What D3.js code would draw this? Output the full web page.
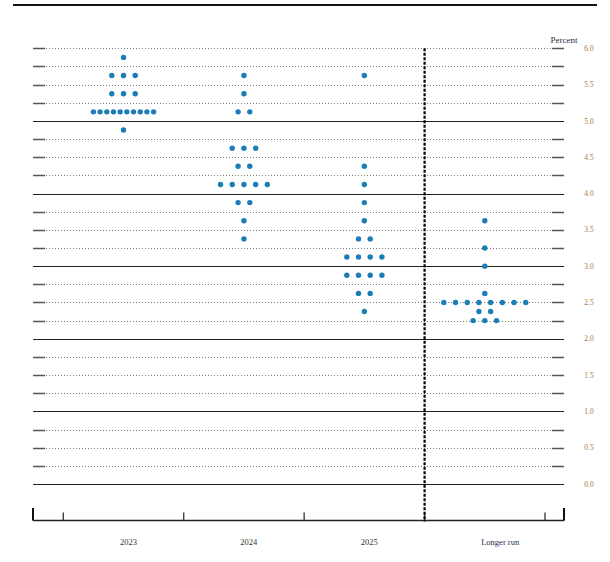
<!DOCTYPE html>
<html>
<head>
<meta charset="utf-8">
<script src="https://cdn.jsdelivr.net/npm/d3@7"></script>
<style>
	body { margin: 0; background: #fff; }
	svg { display: block; }
	text { font-family: "Liberation Serif", "DejaVu Serif", serif; }
</style>
</head>
<body>
<svg id="svg0" width="610" height="562"></svg>
<script>
// columns of the chart
var years = ["2023", "2024", "2025", "Longer run"];

// rate levels (midpoints) and how many participants sit at each one
var levels2023 = [5.875, 5.625, 5.375, 5.125, 4.875];
var counts2023 = [1, 3, 3, 10, 1];

var levels2024 = [5.625, 5.375, 5.125, 4.625, 4.375, 4.125, 3.875, 3.625, 3.375];
var counts2024 = [1, 1, 2, 3, 2, 5, 2, 1, 1];

var levels2025 = [5.625, 4.375, 4.125, 3.875, 3.625, 3.375, 3.125, 2.875, 2.625, 2.375];
var counts2025 = [1, 1, 1, 1, 1, 2, 4, 4, 2, 1];

var levelsLonger = [3.625, 3.25, 3.0, 2.625, 2.5, 2.375, 2.25];
var countsLonger = [1, 1, 1, 1, 8, 2, 3];

// right hand tick labels
var tickLabels = ["0.0", "0.5", "1.0", "1.5", "2.0", "2.5", "3.0", "3.5", "4.0", "4.5", "5.0", "5.5", "6.0"];

var columns = [
	{year: years[0], levels: levels2023, counts: counts2023},
	{year: years[1], levels: levels2024, counts: counts2024},
	{year: years[2], levels: levels2025, counts: counts2025},
	{year: years[3], levels: levelsLonger, counts: countsLonger}
];

var svg = d3.select("#svg0");

var left = 33, right = 564;
var axisY = 520.5;

var xScale = d3.scaleBand()
				.domain(years)
				.range([63.3, 545])
				.padding(0);

var yScale = d3.scaleLinear()
				.domain([0, 6])
				.range([484, 48.3]);

// top rule
svg.append("line")
	.attr("x1", 13).attr("x2", 597)
	.attr("y1", 5).attr("y2", 5)
	.attr("stroke", "#111").attr("stroke-width", 2);

// horizontal grid, every quarter point (whole numbers solid, top edge dotted)
var grid = svg.append("g").attr("class", "grid");
d3.range(0, 24 + 1).forEach(function(k){
	var v = k / 4;
	var y = Math.round(yScale(v)) + 0.5;
	if(k % 4 === 0 && k < 24){
		grid.append("line")
			.attr("x1", left).attr("x2", right)
			.attr("y1", y).attr("y2", y)
			.attr("stroke", "#222").attr("stroke-width", 1.2);
	}
	else{
		grid.append("line")
			.attr("x1", left).attr("x2", left + 12)
			.attr("y1", y).attr("y2", y)
			.attr("stroke", "#555").attr("stroke-width", 1.5);
		grid.append("line")
			.attr("x1", left + 13).attr("x2", right - 12)
			.attr("y1", y).attr("y2", y)
			.attr("stroke", "#7a7a7a").attr("stroke-width", 1)
			.attr("stroke-dasharray", "1,2");
		grid.append("line")
			.attr("x1", right - 12).attr("x2", right)
			.attr("y1", y).attr("y2", y)
			.attr("stroke", "#555").attr("stroke-width", 1.5);
	}
});

// right axis labels
svg.append("g")
	.selectAll("text")
	.data(tickLabels)
	.enter().append("text")
	.attr("x", 589)
	.attr("y", function(d){ return yScale(+d); })
	.attr("dy", "0.35em")
	.style("text-anchor", "middle")
	.style("font-size", "7.5px")
	.attr("fill", "#a8743a")
	.text(function(d){ return d; });

svg.append("text")
	.attr("x", 564)
	.attr("y", 43)
	.style("text-anchor", "middle")
	.style("font-size", "9px")
	.attr("fill", "#1c2a4a")
	.text("Percent");

// bottom axis
var xAxis = svg.append("g").attr("class", "xAxis");
xAxis.append("line")
	.attr("x1", left).attr("x2", right)
	.attr("y1", axisY).attr("y2", axisY)
	.attr("stroke", "#222").attr("stroke-width", 1.5);

[left, right].forEach(function(x){
	xAxis.append("line")
		.attr("x1", x).attr("x2", x)
		.attr("y1", axisY - 12.5).attr("y2", axisY)
		.attr("stroke", "#111").attr("stroke-width", 2);
});

var edges = years.map(function(d){ return xScale(d); }).concat([xScale.range()[1]]);
xAxis.selectAll("line.tick")
	.data(edges)
	.enter().append("line")
	.attr("class", "tick")
	.attr("x1", function(d){ return d; })
	.attr("x2", function(d){ return d; })
	.attr("y1", axisY - 8).attr("y2", axisY)
	.attr("stroke", "#333").attr("stroke-width", 1.3);

xAxis.selectAll("text")
	.data(years)
	.enter().append("text")
	.attr("x", function(d){ return xScale(d) + xScale.bandwidth() * 0.47; })
	.attr("y", 545)
	.style("font-size", "8.5px")
	.attr("fill", function(d){ return d === "Longer run" ? "#1c2a4a" : "#333"; })
	.text(function(d){ return d; });

// dashed separator before longer run
svg.append("line")
	.attr("x1", xScale(years[3])).attr("x2", xScale(years[3]))
	.attr("y1", yScale(6)).attr("y2", axisY + 1)
	.attr("stroke", "#000").attr("stroke-width", 2.2)
	.attr("stroke-dasharray", "3,1.5");

// dots
var dots = [];
columns.forEach(function(c){
	var cx = xScale(c.year) + xScale.bandwidth() / 2;
	c.levels.forEach(function(lv, i){
		var n = c.counts[i];
		var step = 11.7;
		if(n * step > xScale.bandwidth() * 0.8) step = xScale.bandwidth() * 0.5 / (n - 1);
		for(var j = 0; j < n; j++){
			dots.push({x: cx + (j - (n - 1) / 2) * step, rate: lv});
		}
	});
});

svg.append("g")
	.selectAll("circle")
	.data(dots)
	.enter().append("circle")
	.attr("cx", function(d){ return d.x; })
	.attr("cy", function(d){ return yScale(d.rate); })
	.attr("r", 2.7)
	.attr("fill", "#1a7db6");
</script>
</body>
</html>
